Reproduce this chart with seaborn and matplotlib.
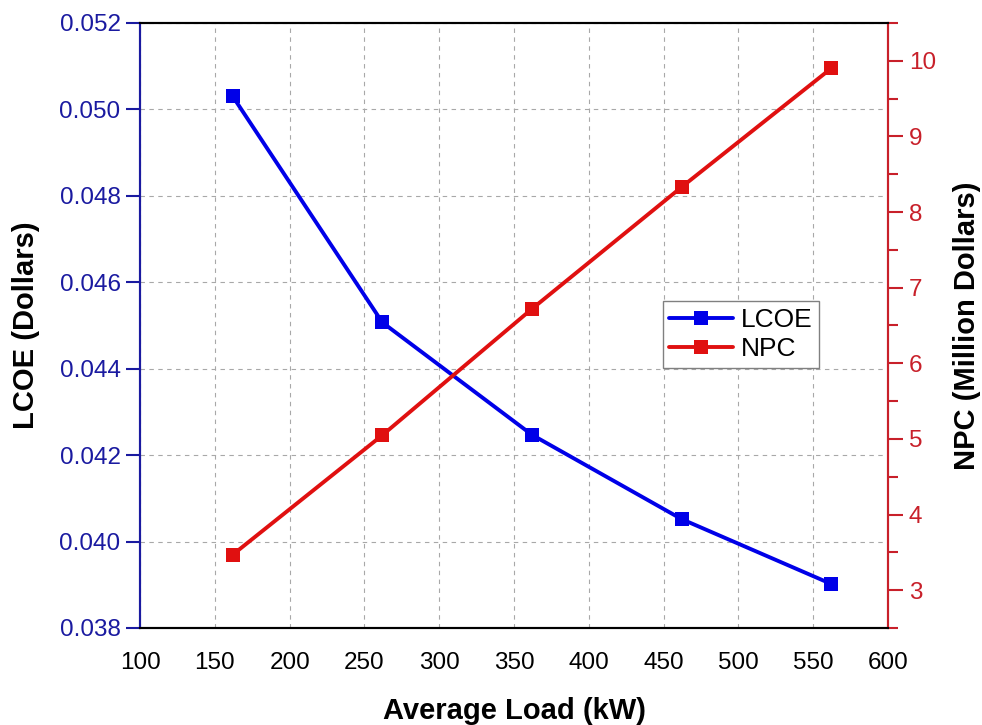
import numpy as np
import pandas as pd
import seaborn as sns
import matplotlib.pyplot as plt
from matplotlib.ticker import MultipleLocator

sns.set_style("white")
plt.rcParams['font.family'] = ['Liberation Sans', 'DejaVu Sans']
plt.rcParams['text.color'] = 'black'
plt.rcParams['axes.labelcolor'] = 'black'

# data
load_kw = [162, 262, 362, 462, 562]
lcoe = [0.0503, 0.04507, 0.04247, 0.04052, 0.03902]
npc = [3.47, 5.05, 6.72, 8.33, 9.9]

df = pd.DataFrame({'load': load_kw, 'LCOE': lcoe, 'NPC': npc})

blue = '#0000E8'
red = '#E01010'
left_col = '#1A1AA0'
right_col = '#C8202A'

fig, ax = plt.subplots(figsize=(9.82, 7.25), dpi=100)
fig.subplots_adjust(left=0.1426, right=0.9043, bottom=0.1338, top=0.9683)

sns.lineplot(data=df, x='load', y='LCOE', ax=ax, color=blue, marker='s',
             markersize=10, markeredgewidth=0, linewidth=2.8, label='LCOE', legend=False)
ax2 = ax.twinx()
sns.lineplot(data=df, x='load', y='NPC', ax=ax2, color=red, marker='s',
             markersize=10, markeredgewidth=0, linewidth=2.8, label='NPC', legend=False)

ax.set_xlim(100, 600)
ax.set_ylim(0.038, 0.052)
ax2.set_ylim(2.5, 10.5)
ax.xaxis.set_major_locator(MultipleLocator(50))
ax.yaxis.set_major_locator(MultipleLocator(0.002))
ax.yaxis.set_major_formatter(plt.FuncFormatter(lambda v, p: f"{v:.3f}"))
ax2.yaxis.set_major_locator(MultipleLocator(1))
ax2.yaxis.set_minor_locator(MultipleLocator(0.5))

ax.grid(True, linestyle=(0, (4, 4)), color='#A8A8A8', linewidth=0.8)
ax.set_axisbelow(True)

ax.tick_params(axis='x', direction='out', length=11, width=1.5, labelsize=17.5, pad=6, colors='black')
ax.tick_params(axis='y', direction='out', length=10, width=1.5, labelsize=17.5, pad=4,
               color=left_col, labelcolor=left_col)
ax2.tick_params(axis='y', which='major', direction='out', length=11, width=1.5, pad=4,
                labelsize=17.5, color=right_col, labelcolor=right_col)
ax2.tick_params(axis='y', which='minor', direction='out', length=7, width=1.5, color=right_col)

for a in (ax, ax2):
    for s in a.spines.values():
        s.set_linewidth(1.5)
        s.set_color('black')
    a.spines['left'].set_color(left_col)
    a.spines['right'].set_color(right_col)

ax.set_xlabel('Average Load (kW)', fontsize=21, fontweight='bold', labelpad=17, color='black')
ax.set_ylabel('LCOE (Dollars)', fontsize=21, fontweight='bold', labelpad=14, color='black')
ax2.set_ylabel('NPC (Million Dollars)', fontsize=21, fontweight='bold', labelpad=12, color='black')

h1, l1 = ax.get_legend_handles_labels()
h2, l2 = ax2.get_legend_handles_labels()
leg = ax2.legend(h1 + h2, l1 + l2, loc='upper left', bbox_to_anchor=(0.699, 0.54),
                 fontsize=19, frameon=True, fancybox=False, framealpha=1,
                 edgecolor='#808080', handlelength=2.4, handletextpad=0.3,
                 borderpad=0.25, labelspacing=0.2, borderaxespad=0)
leg.get_frame().set_linewidth(1.0)
for t in leg.get_texts():
    t.set_color('black')

fig.savefig('out.png', dpi=100)
